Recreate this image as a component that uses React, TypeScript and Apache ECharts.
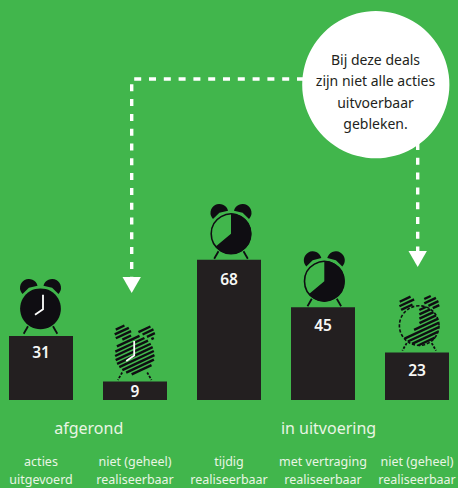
import React, { useEffect, useRef } from "react";
import * as echarts from "echarts";

const categories = [
  "acties\nuitgevoerd",
  "niet (geheel)\nrealiseerbaar",
  "tijdig\nrealiseerbaar",
  "met vertraging\nrealiseerbaar",
  "niet (geheel)\nrealiseerbaar",
];
const values = [31, 9, 68, 45, 23];
const groupLabels = ["afgerond", "in uitvoering"];
const calloutLines = ["Bij deze deals", "zijn niet alle acties", "uitvoerbaar", "gebleken."];

const GREEN = "#41b64c";
const BAR = "#231f20";
const INK = "#0f0d12";
const PALE = "#e9f5e4";
const FONT = "'Noto Sans', sans-serif";

// Per-clock drawing style
const clockFill = ["solid", "hatch", "solid", "solid", "hatch"];
const clockFace = ["full", "full", "part", "part", "part"];
const clockDx = [-0.5, -0.3, 2, 1.3, 2.2];
const clockDy = [-27.3, -26.5, -26, -26, -27];
const handDx = [2.5, -0.5];
const labelDistance = [8, 2, 11, 10, 9];

type Inside = (x: number, y: number) => boolean;

function hatch(cx: number, cy: number, R: number, inside: Inside) {
  const ang = (25 * Math.PI) / 180;
  const ux = Math.cos(ang), uy = -Math.sin(ang);
  const nx = -uy, ny = ux;
  const out: any[] = [];
  // stripes sit on one lattice anchored to the page, so all parts of a clock line up
  const step = 3.95;
  const base = nx * cx + ny * cy;
  const first = Math.ceil((base - R) / step) * step - base;
  for (let d = first; d <= R; d += step) {
    let start: number | null = null;
    let last = 0;
    for (let t = -R; t <= R + 0.01; t += 0.3) {
      const x = cx + nx * d + ux * t, y = cy + ny * d + uy * t;
      if (inside(x, y)) {
        if (start === null) start = t;
        last = t;
      } else if (start !== null) {
        out.push(seg(cx, cy, nx, ny, ux, uy, d, start, last));
        start = null;
      }
    }
    if (start !== null) out.push(seg(cx, cy, nx, ny, ux, uy, d, start, last));
  }
  return out;
}
function seg(cx: number, cy: number, nx: number, ny: number, ux: number, uy: number, d: number, a: number, b: number) {
  return {
    type: "line",
    shape: {
      x1: cx + nx * d + ux * a, y1: cy + ny * d + uy * a,
      x2: cx + nx * d + ux * b, y2: cy + ny * d + uy * b,
    },
    style: { stroke: INK, lineWidth: 2.4, fill: null },
  };
}

function renderClock(params: any, api: any) {
  const i = api.value(0);
  const top = api.coord([i, api.value(1)]);
  const cx = top[0] + clockDx[i];
  const cy = top[1] + clockDy[i];
  const r = 20;
  const hatched = clockFill[i] === "hatch";
  const kids: any[] = [];

  // ears: lobes a little larger than a half disc
  [-1, 1].forEach((side) => {
    const ex = cx + side * 11.6, ey = cy - 21;
    const a = Math.atan2(-21, side * 11.6);
    const er = 8.9;
    const over = (15 * Math.PI) / 180;
    if (hatched) {
      kids.push(...hatch(ex, ey, er + 1, (x, y) => {
        const dx = x - ex, dy = y - ey;
        return dx * dx + dy * dy <= (er - 0.3) * (er - 0.3) && dx * Math.cos(a) + dy * Math.sin(a) >= -er * Math.sin(over);
      }));
    } else {
      kids.push({
        type: "sector",
        shape: { cx: ex, cy: ey, r: er, r0: 0, startAngle: a - Math.PI / 2 - over, endAngle: a + Math.PI / 2 + over, clockwise: true },
        style: { fill: INK },
      });
    }
  });

  // legs
  [-1, 1].forEach((side) => {
    kids.push({
      type: "line",
      shape: { x1: cx + side * 12.5, y1: cy + 17.5, x2: cx + side * 16.8, y2: cy + 25 },
      style: { stroke: INK, lineWidth: 1.8, lineDash: hatched ? [2.5, 1.5] : undefined, fill: null },
    });
  });

  const sweepEnd = (140 * Math.PI) / 180;
  const sweepStart = -Math.PI / 2;
  if (clockFace[i] === "full") {
    if (hatched) {
      kids.push(...hatch(cx, cy, r, (x, y) => (x - cx) ** 2 + (y - cy) ** 2 <= (r - 0.2) * (r - 0.2)));
    } else {
      kids.push({ type: "circle", shape: { cx, cy, r: r + 0.4 }, style: { fill: INK } });
    }
    const h = handDx[i];
    kids.push({
      type: "polyline",
      shape: { points: [[cx + h, cy - 14], [cx + h, cy + 0.5], [cx + h - 8, cy + 6]] },
      style: { stroke: "#ffffff", lineWidth: 1.8, fill: null },
    });
  } else {
    kids.push({
      type: "circle",
      shape: { cx, cy, r: r - 0.2 },
      style: { fill: null, stroke: INK, lineWidth: 1.6, lineDash: hatched ? [3.2, 1.8] : undefined },
    });
    if (hatched) {
      kids.push(...hatch(cx, cy, r, (x, y) => {
        const dx = x - cx, dy = y - cy;
        if (dx * dx + dy * dy > (r - 0.2) * (r - 0.2)) return false;
        let a = Math.atan2(dy, dx);
        if (a < sweepStart) a += Math.PI * 2;
        return a <= sweepEnd;
      }));
    } else {
      kids.push({
        type: "sector",
        shape: { cx, cy, r: r + 0.3, r0: 0, startAngle: sweepStart, endAngle: sweepEnd, clockwise: true },
        style: { fill: INK },
      });
    }
  }
  return { type: "group", silent: true, children: kids };
}

function arrowHead(x: number, yTop: number) {
  return {
    type: "polygon",
    silent: true,
    shape: { points: [[x - 9.2, yTop], [x + 9.2, yTop], [x, yTop + 16]] },
    style: { fill: "#ffffff" },
  };
}

const dashStyle = { stroke: "#ffffff", lineWidth: 3.4, lineDash: [7, 7.8], fill: null };

export default function App() {
  const ref = useRef<HTMLDivElement>(null);
  useEffect(() => {
    document.body.style.margin = "0";
    const chart = echarts.init(ref.current!, null, { renderer: "svg" });
    chart.setOption({
      animation: false,
      backgroundColor: GREEN,
      textStyle: { fontFamily: FONT },
      grid: { left: -6, top: 0, width: 470, height: 400, containLabel: false, outerBoundsMode: "none" },
      xAxis: {
        type: "category",
        data: categories,
        axisLine: { show: false },
        axisTick: { show: false },
        axisLabel: {
          interval: 0,
          margin: 52,
          color: PALE,
          fontFamily: FONT,
          fontSize: 12.5,
          lineHeight: 18.5,
          hideOverlap: false,
        },
      },
      yAxis: { type: "value", min: 0, max: 194, show: false, splitLine: { show: false } },
      series: [
        {
          type: "bar",
          barWidth: 64,
          itemStyle: { color: BAR },
          data: values.map((v, i) => ({
            value: v,
            label: {
              show: true,
              position: "insideTop",
              distance: labelDistance[i],
              color: "#f7f7f5",
              fontFamily: FONT,
              fontWeight: 600,
              fontSize: 15.5,
            },
          })),
        },
        {
          type: "custom",
          clip: false,
          renderItem: renderClock,
          data: values.map((v, i) => [i, v]),
          encode: { x: 0, y: 1 },
          z: 5,
        },
      ],
      graphic: [
        {
          type: "polyline", silent: true, z: 1,
          shape: { points: [[304, 79], [131.7, 79], [131.7, 277]] },
          style: dashStyle,
        },
        arrowHead(131.7, 277),
        {
          type: "line", silent: true, z: 1,
          shape: { x1: 417.7, y1: 143, x2: 417.7, y2: 252 },
          style: dashStyle,
        },
        arrowHead(417.7, 251),
        {
          type: "circle", silent: true, z: 2,
          shape: { cx: 375.8, cy: 84.7, r: 73.6 },
          style: { fill: "#ffffff" },
        },
        ...calloutLines.map((t, i) => ({
          type: "text", silent: true, z: 3,
          x: 375.5,
          y: 59 + i * 21.6,
          style: {
            text: t, fill: BAR, font: `14px ${FONT}`,
            textAlign: "center", textVerticalAlign: "middle",
          },
        })),
        ...groupLabels.map((t, i) => ({
          type: "text", silent: true,
          x: [88.7, 328.5][i],
          y: 428,
          style: {
            text: t, fill: PALE, font: `16px ${FONT}`,
            textAlign: "center", textVerticalAlign: "middle",
          },
        })),
      ],
    });
    return () => chart.dispose();
  }, []);
  return <div ref={ref} style={{ position: "absolute", left: 0, top: 0, width: 458, height: 488 }} />;
}
